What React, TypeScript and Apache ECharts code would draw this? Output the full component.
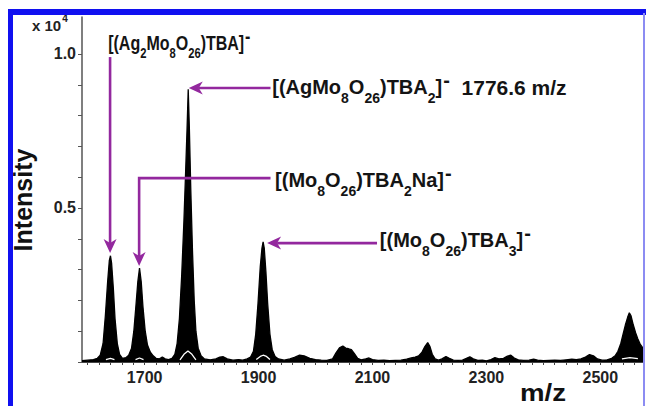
import React, { useEffect, useRef } from 'react';
import * as echarts from 'echarts';

// ---- Data (m/z, intensity in units of 10^4) ----
const mzValues = [
  1590, 1600, 1610, 1617, 1622, 1627, 1631, 1635, 1638, 1640, 1642, 1645, 1648, 1652, 1656, 1661,
  1667, 1672, 1677, 1681, 1685, 1688, 1691, 1694, 1697, 1701, 1705, 1710, 1715, 1720, 1726, 1731,
  1736, 1742, 1748, 1753, 1757, 1761, 1765, 1769, 1772, 1774.5, 1776.5, 1778.5, 1781, 1784, 1787, 1790,
  1794, 1799, 1805, 1815, 1825, 1832, 1838, 1845, 1855, 1865, 1872, 1880, 1886, 1891, 1895, 1899,
  1903, 1906, 1908, 1910, 1913, 1916, 1920, 1924, 1929, 1935, 1945, 1955, 1963, 1972, 1980, 1990,
  2000, 2010, 2020, 2030, 2036, 2042, 2048, 2053, 2058, 2063, 2068, 2074, 2080, 2088, 2094, 2100,
  2110, 2120, 2130, 2140, 2150, 2160, 2168, 2175, 2181, 2187, 2192, 2197, 2201, 2205, 2210, 2216,
  2222, 2229, 2235, 2242, 2250, 2258, 2265, 2271, 2277, 2285, 2293, 2300, 2308, 2315, 2322, 2330,
  2337, 2343, 2349, 2356, 2365, 2375, 2383, 2390, 2400, 2410, 2420, 2430, 2440, 2450, 2458, 2466,
  2474, 2481, 2488, 2495, 2503, 2512, 2520, 2526, 2531, 2536, 2540, 2544, 2548, 2551, 2554, 2558,
  2562, 2566, 2570, 2575,
];
const intensityValues = [
  0.004, 0.006, 0.008, 0.012, 0.022, 0.06, 0.15, 0.26, 0.33, 0.345, 0.32, 0.24, 0.14, 0.06, 0.025, 0.012,
  0.014, 0.022, 0.045, 0.1, 0.19, 0.26, 0.305, 0.26, 0.18, 0.1, 0.055, 0.032, 0.02, 0.012, 0.01, 0.016,
  0.01, 0.008, 0.012, 0.025, 0.06, 0.14, 0.28, 0.46, 0.62, 0.76, 0.885, 0.76, 0.56, 0.36, 0.2, 0.1,
  0.045, 0.02, 0.01, 0.007, 0.01, 0.016, 0.017, 0.01, 0.006, 0.008, 0.006, 0.01, 0.016, 0.035, 0.09, 0.19,
  0.31, 0.37, 0.39, 0.37, 0.29, 0.19, 0.09, 0.04, 0.018, 0.01, 0.006, 0.01, 0.015, 0.022, 0.02, 0.012,
  0.008, 0.006, 0.005, 0.01, 0.03, 0.046, 0.052, 0.045, 0.043, 0.04, 0.028, 0.012, 0.007, 0.01, 0.013, 0.008,
  0.005, 0.006, 0.004, 0.005, 0.006, 0.009, 0.013, 0.016, 0.02, 0.032, 0.05, 0.063, 0.05, 0.025, 0.01, 0.006,
  0.01, 0.018, 0.012, 0.006, 0.005, 0.006, 0.012, 0.017, 0.01, 0.005, 0.006, 0.004, 0.008, 0.014, 0.01, 0.012,
  0.019, 0.022, 0.013, 0.007, 0.005, 0.006, 0.009, 0.006, 0.004, 0.005, 0.006, 0.005, 0.007, 0.009, 0.008, 0.01,
  0.016, 0.024, 0.02, 0.01, 0.006, 0.007, 0.012, 0.02, 0.035, 0.06, 0.09, 0.12, 0.145, 0.16, 0.15, 0.12,
  0.095, 0.075, 0.058, 0.045,
];
// faint second trace visible in white inside the base of the peaks (null = gap)
const traceMz = [1632, 1640, 1647, null, 1684, 1691, 1698, null, 1762, 1769, 1776, 1783, 1790, null, 1896, 1903, 1908, 1914, 1920, null, 2538, 2552, 2566];
const traceIntensity = [0.008, 0.012, 0.008, null, 0.008, 0.013, 0.008, null, 0.007, 0.025, 0.036, 0.025, 0.007, null, 0.008, 0.018, 0.022, 0.018, 0.008, null, 0.01, 0.014, 0.011];

const xTickLabels = [1700, 1900, 2100, 2300, 2500];
const yTickLabels = [0.5, 1.0];
const xMin = 1590;
const xMax = 2575;
const yMax = 1.12;

const FONT = '"Liberation Sans", Arial, Helvetica, sans-serif';
const PURPLE = '#93289E';

type Part = [string, string];
const label1: Part[] = [['m', '[(Ag'], ['s', '2'], ['m', 'Mo'], ['s', '8'], ['m', 'O'], ['s', '26'], ['m', ')TBA]'], ['p', '-']];
const label2: Part[] = [['m', '[(AgMo'], ['s', '8'], ['m', 'O'], ['s', '26'], ['m', ')TBA'], ['s', '2'], ['m', ']'], ['p', '-'], ['n', '  1776.6 m/z']];
const label3: Part[] = [['m', '[(Mo'], ['s', '8'], ['m', 'O'], ['s', '26'], ['m', ')TBA'], ['s', '2'], ['m', 'Na]'], ['p', '-']];
const label4: Part[] = [['m', '[(Mo'], ['s', '8'], ['m', 'O'], ['s', '26'], ['m', ')TBA'], ['s', '3'], ['m', ']'], ['p', '-']];

// annotation anchors in data coordinates (m/z, intensity): text top-left and arrow path (last point = tip)
const annotations = [
  { parts: label1, textAt: [1636, 1.094], scaleX: 0.8, path: [[1639.3, 0.99], [1639.3, 0.354]] },
  { parts: label2, textAt: [1924, 0.951], scaleX: 1, path: [[1921, 0.8895], [1777.5, 0.8895]] },
  { parts: label3, textAt: [1929, 0.649], scaleX: 1, path: [[1921, 0.597], [1690.3, 0.597], [1690.3, 0.312]] },
  { parts: label4, textAt: [2113, 0.4545], scaleX: 1, path: [[2108, 0.386], [1915, 0.386]] },
];

const INK = '#141414';
const richStyles = {
  m: { fontSize: 20, fontWeight: 'bold', fontFamily: FONT, lineHeight: 22, padding: [8, 0, 0, 0], verticalAlign: 'top', fill: INK },
  n: { fontSize: 21, fontWeight: 'bold', fontFamily: FONT, lineHeight: 22, padding: [7.5, 0, 0, 0], verticalAlign: 'top', fill: INK },
  s: { fontSize: 14, fontWeight: 'bold', fontFamily: FONT, lineHeight: 14, padding: [22, 0, 0, 0], verticalAlign: 'top', fill: INK },
  p: { fontSize: 20, fontWeight: 'bold', fontFamily: FONT, lineHeight: 20, padding: [1, 0, 0, 1], verticalAlign: 'top', fill: INK },
};

function richText(parts: Part[]) {
  return parts.map(([k, t]) => `{${k}|${t}}`).join('');
}

export default function App() {
  const ref = useRef<HTMLDivElement>(null);

  useEffect(() => {
    if (!ref.current) return;
    const chart = echarts.init(ref.current, null, { renderer: 'svg' });

    const xTicks: number[] = [];
    for (let v = 1600; v <= 2560; v += 20) xTicks.push(v);
    const yTicks: number[] = [];
    for (let i = 0; i <= 10; i++) yTicks.push(Math.round(i * 10) / 100);

    chart.setOption({
      animation: false,
      backgroundColor: '#ffffff',
      grid: { left: 82, right: 3, top: 17, bottom: 44 },
      xAxis: {
        type: 'value',
        min: xMin,
        max: xMax,
        axisLine: { show: true, lineStyle: { color: '#444', width: 1 } },
        axisTick: { show: true, length: 3, inside: false, customValues: xTicks, lineStyle: { color: '#444' } },
        axisLabel: {
          customValues: xTickLabels,
          margin: 7,
          color: '#222',
          fontSize: 16,
          fontWeight: 'bold',
          fontFamily: FONT,
          formatter: (v: number) => String(v),
        },
        splitLine: { show: false },
      },
      yAxis: {
        type: 'value',
        min: 0,
        max: yMax,
        axisLine: { show: true, lineStyle: { color: '#555', width: 1.5 } },
        axisTick: { show: true, length: 4, inside: false, customValues: yTicks, lineStyle: { color: '#555' } },
        axisLabel: {
          customValues: yTickLabels,
          margin: 6,
          color: '#222',
          fontSize: 16,
          fontWeight: 'bold',
          fontFamily: FONT,
          formatter: (v: number) => v.toFixed(1),
        },
        splitLine: { show: false },
      },
      series: [
        {
          type: 'line',
          name: 'Spectrum',
          data: mzValues.map((m, i) => [m, intensityValues[i]]),
          symbol: 'none',
          lineStyle: { color: '#000', width: 1.3 },
          areaStyle: { color: '#000', opacity: 1 },
          z: 2,
        },
        {
          type: 'line',
          name: 'Second trace',
          data: traceMz.map((m, i) => (m === null ? [null, null] : [m, traceIntensity[i]])),
          connectNulls: false,
          symbol: 'none',
          lineStyle: { color: '#fff', width: 1.3 },
          z: 3,
        },
      ],
    });

    const px = (p: number[]) => chart.convertToPixel({ xAxisIndex: 0, yAxisIndex: 0 }, p) as number[];

    const graphics: any[] = [];
    // blue frame
    graphics.push({ type: 'rect', shape: { x: 8, y: 9, width: 638, height: 6 }, style: { fill: '#1010F0' }, z: 100 });
    graphics.push({ type: 'rect', shape: { x: 8, y: 9, width: 5, height: 397 }, style: { fill: '#1010F0' }, z: 100 });
    graphics.push({ type: 'rect', shape: { x: 643, y: 13, width: 2, height: 393 }, style: { fill: '#8C8CF2' }, z: 100 });

    // axis titles
    graphics.push({
      type: 'text', x: 23, y: 200, rotation: Math.PI / 2, z: 50,
      style: { text: 'Intensity', fontSize: 25, fontWeight: 'bold', fontFamily: FONT, fill: '#111', align: 'center', verticalAlign: 'middle' },
    });
    graphics.push({
      type: 'text', x: 543, y: 393, scaleX: 1.15, z: 50,
      style: { text: 'm/z', fontSize: 24, fontWeight: 'bold', fontFamily: FONT, fill: '#111', align: 'center', verticalAlign: 'middle' },
    });
    graphics.push({
      type: 'text', x: 32, y: 12, z: 50,
      style: {
        text: '{a|x 10}{b|4}', align: 'left', verticalAlign: 'top',
        rich: {
          a: { fontSize: 15, fontWeight: 'bold', fontFamily: FONT, lineHeight: 15, padding: [6, 0, 0, 0], verticalAlign: 'top', fill: '#222' },
          b: { fontSize: 10, fontWeight: 'bold', fontFamily: FONT, lineHeight: 10, padding: [1.5, 0, 0, 1], verticalAlign: 'top', fill: '#222' },
        },
      },
    });

    // annotations
    annotations.forEach((a) => {
      const t = px(a.textAt);
      graphics.push({
        type: 'text', x: t[0], y: t[1], scaleX: a.scaleX, z: 60,
        style: { text: richText(a.parts), align: 'left', verticalAlign: 'top', rich: richStyles },
      });
      const pts = a.path.map((p) => px(p));
      const tip = pts[pts.length - 1];
      const prev = pts[pts.length - 2];
      const dx = tip[0] - prev[0];
      const dy = tip[1] - prev[1];
      const len = Math.hypot(dx, dy) || 1;
      const ux = dx / len;
      const uy = dy / len;
      const nx = -uy;
      const ny = ux;
      const L = 14;
      const W = 6.5;
      const notch = 4;
      const shaft = pts.slice(0, -1).concat([[tip[0] - ux * (L - notch), tip[1] - uy * (L - notch)]]);
      graphics.push({
        type: 'polyline', z: 55,
        shape: { points: shaft },
        style: { stroke: PURPLE, lineWidth: 2.6, fill: 'none' },
      });
      graphics.push({
        type: 'polygon', z: 56,
        shape: {
          points: [
            tip,
            [tip[0] - ux * L + nx * W, tip[1] - uy * L + ny * W],
            [tip[0] - ux * (L - notch), tip[1] - uy * (L - notch)],
            [tip[0] - ux * L - nx * W, tip[1] - uy * L - ny * W],
          ],
        },
        style: { fill: PURPLE },
      });
    });

    chart.setOption({ graphic: graphics });

    return () => chart.dispose();
  }, []);

  return (
    <div
      ref={ref}
      style={{ position: 'fixed', left: 0, top: 0, width: 646, height: 406, background: '#fff' }}
    />
  );
}
